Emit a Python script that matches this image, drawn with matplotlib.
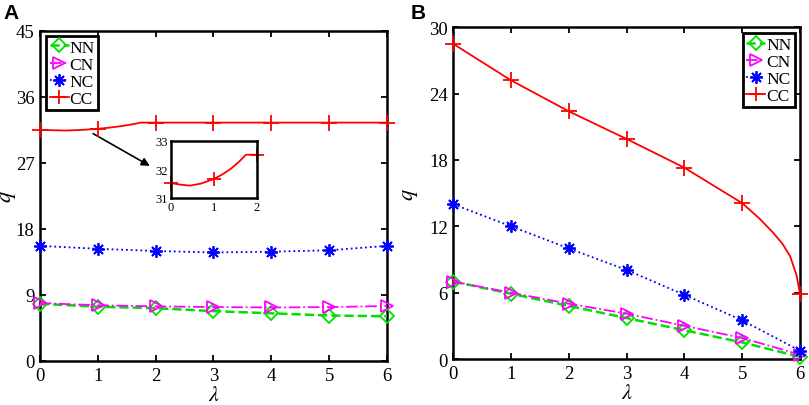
import matplotlib
matplotlib.use("Agg")
import matplotlib.pyplot as plt
from matplotlib.lines import Line2D

plt.rcParams['font.family'] = ['Liberation Serif', 'DejaVu Serif']
plt.rcParams['mathtext.fontset'] = 'stix'

lam = [0, 1, 2, 3, 4, 5, 6]
labels = ['NN', 'CN', 'NC', 'CC']

# Panel A values
A_NN = [7.8, 7.4, 7.2, 6.8, 6.5, 6.2, 6.1]
A_CN = [7.9, 7.6, 7.45, 7.35, 7.3, 7.35, 7.5]
A_NC = [15.7, 15.3, 15.0, 14.8, 14.9, 15.1, 15.7]
A_CC = [31.52, 31.66, 32.51, 32.51, 32.51, 32.51, 32.51]
# CC curve in A traced more finely from the picture
A_CC_line_x = [0, 0.25, 0.45, 0.7, 1.0, 1.2, 1.4, 1.6, 1.75, 2, 3, 4, 5, 6]
A_CC_line_y = [31.52, 31.46, 31.43, 31.5, 31.66, 31.82, 32.02, 32.28, 32.51, 32.51, 32.51, 32.51, 32.51, 32.51]

# Panel B values
B_NN = [7.0, 5.9, 4.8, 3.7, 2.6, 1.5, 0.2]
B_CN = [7.0, 6.0, 5.0, 4.1, 3.0, 1.9, 0.4]
B_NC = [14.0, 12.0, 10.0, 8.05, 5.8, 3.5, 0.75]
B_CC = [28.5, 25.2, 22.4, 19.9, 17.3, 14.1, 5.9]
B_CC_line_x = [0, 1, 2, 3, 4, 5, 5.3, 5.54, 5.7, 5.83, 5.94, 6]
B_CC_line_y = [28.5, 25.2, 22.4, 19.9, 17.3, 14.1, 12.7, 11.4, 10.4, 9.3, 7.6, 5.9]

colors = ['#00e000', '#ff00ff', '#0000ff', '#ff0000']
styles = ['--', '-.', ':', '-']
markers = ['D', '>', (8, 2, 0), '+']
msizes = [7, 9, 9, 10]
lws = [1.8, 1.3, 1.3, 1.3]

fig = plt.figure(figsize=(8.09, 4.06), dpi=100)
axA = fig.add_axes([0.0494, 0.1084, 0.429, 0.8128])
axB = fig.add_axes([0.5603, 0.1133, 0.4285, 0.817])


def style_axes(ax, fs=13.5, lw=1.8):
    for s in ax.spines.values():
        s.set_linewidth(lw)
    ax.tick_params(direction='in', top=True, right=True, labelsize=fs,
                   width=1.3, length=4, pad=4)


def draw(ax, series, ccx, ccy):
    for i, ys in enumerate(series):
        if i < 3:
            ax.plot(lam, ys, color=colors[i], ls=styles[i],
                    lw=lws[i], marker=markers[i],
                    ms=msizes[i], mfc='none', mec=colors[i], mew=1.3,
                    clip_on=False, zorder=3 + i)
        else:
            ax.plot(ccx, ccy, color=colors[3], ls='-', lw=1.3, zorder=6)
            ax.plot(lam, ys, ls='none', marker='+', ms=11, mew=1.3,
                    color=colors[3], clip_on=False, zorder=7)


def legend(ax, loc, bbox):
    handles = [Line2D([0], [0], color=colors[i], ls=styles[i], lw=lws[i],
                      marker=markers[i], ms=msizes[i], mfc='none',
                      mec=colors[i], mew=1.3) for i in range(4)]
    lg = ax.legend(handles, labels, loc=loc, bbox_to_anchor=bbox,
                   fontsize=12.5, handlelength=1.1, handletextpad=0.05,
                   borderpad=0.2, labelspacing=0.05, fancybox=False,
                   framealpha=1, edgecolor='black', borderaxespad=0)
    lg.get_frame().set_linewidth(2)


draw(axA, [A_NN, A_CN, A_NC, A_CC], A_CC_line_x, A_CC_line_y)
axA.set_xlim(0, 6)
axA.set_ylim(0, 45)
axA.set_xticks(lam)
axA.set_yticks([0, 9, 18, 27, 36, 45])
style_axes(axA)
axA.set_xlabel(r'$\lambda$', fontsize=16)
axA.set_ylabel(r'$q$', fontsize=16)
axA.xaxis.set_label_coords(0.5, -0.076)
axA.yaxis.set_label_coords(-0.064, 0.5)
legend(axA, 'upper left', (0.018, 0.985))
axA.annotate('', xy=(1.9, 26.6), xytext=(0.92, 31.0),
             arrowprops=dict(arrowstyle='-|>', color='black', lw=1.2,
                             mutation_scale=12, shrinkA=0, shrinkB=0))

# inset
axI = fig.add_axes([0.211, 0.51, 0.1063, 0.141])
axI.plot(A_CC_line_x[:10], A_CC_line_y[:10], color=colors[3], lw=1.3)
axI.plot(lam[:3], A_CC[:3], ls='none', marker='+', ms=10, mew=1.3,
         color=colors[3], clip_on=False)
axI.set_xlim(0, 2)
axI.set_ylim(31, 33)
axI.set_xticks([0, 1, 2])
axI.set_yticks([31, 32, 33])
for s in axI.spines.values():
    s.set_linewidth(1.8)
axI.tick_params(direction='in', labelsize=9, width=1, length=0, pad=2)

draw(axB, [B_NN, B_CN, B_NC, B_CC], B_CC_line_x, B_CC_line_y)
axB.set_xlim(0, 6)
axB.set_ylim(0, 30)
axB.set_xticks(lam)
axB.set_yticks([0, 6, 12, 18, 24, 30])
style_axes(axB)
axB.set_xlabel(r'$\lambda$', fontsize=16)
axB.set_ylabel(r'$q$', fontsize=16)
axB.xaxis.set_label_coords(0.5, -0.076)
axB.yaxis.set_label_coords(-0.095, 0.5)
legend(axB, 'upper right', (0.985, 0.982))

fig.text(0.004, 0.967, 'A', fontsize=15, fontweight='bold',
         family='Liberation Sans', va='center')
fig.text(0.508, 0.967, 'B', fontsize=15, fontweight='bold',
         family='Liberation Sans', va='center')

fig.savefig('out.png', dpi=100)
